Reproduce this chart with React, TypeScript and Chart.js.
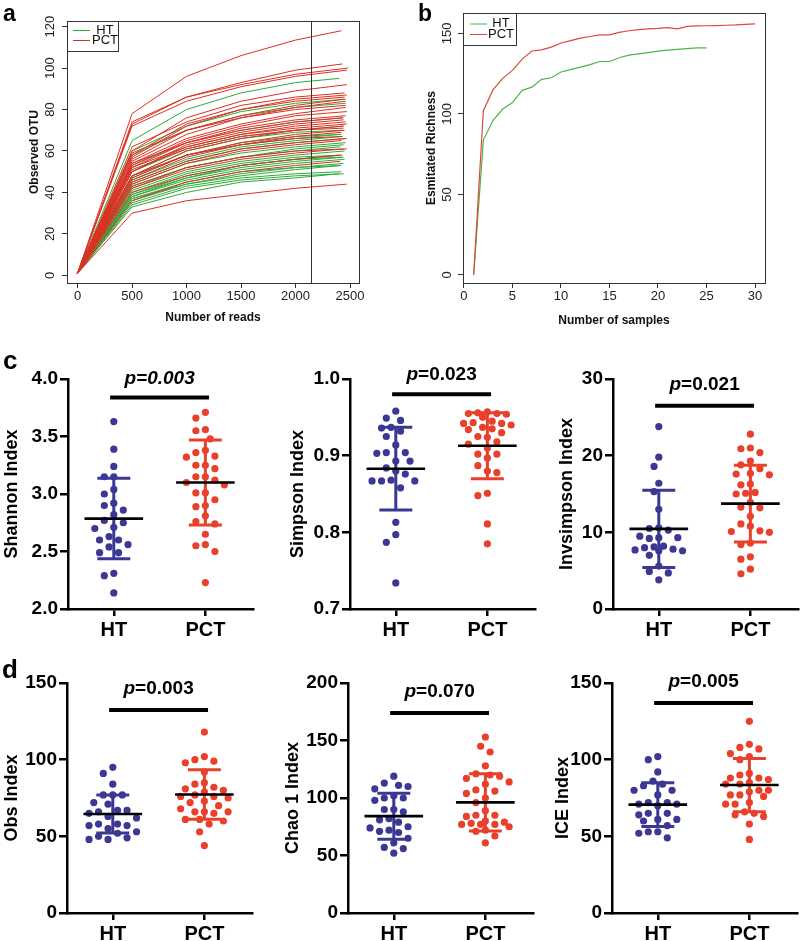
import React, { useEffect, useRef } from 'react';
import { Chart, registerables } from 'chart.js';

Chart.register(...registerables);

const FONT = 'Arial, "Liberation Sans", Helvetica, sans-serif';
Chart.defaults.font.family = FONT;

const GREEN = '#2FAA38';
const RED = '#DB2F22';
const HT_DOT = '#3B3894';
const PCT_DOT = '#E8402B';

const groupLabels = ['HT', 'PCT'];

// ---------- panel a : rarefaction curves ----------
const readSteps = [0, 500, 1000, 1500, 2000];
const curveStartOTU = 1;
const rarefactionDepth = 2140;
const readTicks = [0, 500, 1000, 1500, 2000, 2500];
const otuTicks = [0, 20, 40, 60, 80, 100, 120];
// values at 500, 1000, 1500, 2000 reads and at the sample's full depth
const pctCurves = [
  [78, 96, 106, 113.5, 118], [74, 86, 93, 99, 102], [73, 86, 92, 97, 100], [72, 84, 91, 96, 99],
  [60, 76, 84, 89, 92], [58, 73, 80, 85, 87], [57, 72, 80, 84, 86], [56, 70, 77, 82, 85],
  [55, 68, 76, 81, 84], [54, 66, 73, 78, 81], [53, 65, 72, 77, 79], [52, 64, 71, 75, 77],
  [54, 64, 70, 74, 76], [50, 62, 68, 72, 74], [52, 62, 68, 71, 73], [48, 60, 66, 70, 72],
  [50, 63, 69, 73, 75], [47, 58, 64, 68, 70], [46, 57, 63, 67, 69], [45, 55, 61, 64, 66],
  [44, 54, 60, 63, 65], [43, 52, 57, 60, 61], [42, 51, 56, 59, 61], [40, 48, 53, 56, 58],
  [36, 45, 50, 53, 55], [30, 36, 39, 42, 44], [62, 74, 82, 86, 88], [59, 70, 76, 80, 82],
  [51, 61, 67, 70, 71], [48, 58, 63, 66, 67],
];
const pctDepths = [2420, 2430, 2480, 2470, 2470, 2470, 2450, 2450, 2460, 2460, 2470, 2460, 2440, 2460, 2470,
  2440, 2440, 2450, 2420, 2470, 2420, 2470, 2440, 2430, 2410, 2470, 2450, 2460, 2440, 2430];
const htCurves = [
  [65, 80, 88, 93, 95], [60, 72, 79, 83, 85], [58, 70, 77, 81, 83], [53, 64, 70, 74, 76],
  [50, 61, 67, 70, 72], [48, 60, 66, 69, 70], [48, 58, 63, 66, 68], [47, 58, 64, 67, 68],
  [46, 56, 62, 65, 67], [45, 55, 61, 64, 66], [44, 54, 59, 62, 64], [43, 52, 57, 61, 63],
  [42, 52, 57, 60, 62], [41, 50, 55, 58, 60], [40, 49, 54, 57, 58], [38, 47, 53, 56, 58],
  [39, 47, 52, 55, 57], [39, 48, 53, 56, 57], [38, 46, 51, 54, 56], [37, 45, 50, 52, 54],
  [37, 44, 48, 51, 53], [36, 44, 49, 52, 53], [35, 43, 47, 49, 50], [34, 42, 46, 48, 49],
  [33, 40, 45, 47, 49],
];
const htDepths = [2400, 2460, 2460, 2430, 2440, 2440, 2400, 2420, 2430, 2450, 2460, 2440, 2410, 2450, 2410,
  2400, 2440, 2420, 2450, 2440, 2420, 2410, 2420, 2440, 2400];

// ---------- panel b : species accumulation ----------
const samplesHT = [1, 2, 3, 4, 5, 6, 7, 8, 9, 10, 11, 12, 13, 14, 15, 16, 17, 18, 19, 20, 21, 22, 23, 24, 25];
const richnessHT = [0, 83.7, 96, 103, 107, 114.6, 116.6, 121.4, 122.4, 126, 127.5, 129, 130.6, 132.5, 132.5,
  134.8, 136.4, 137.2, 138, 138.9, 139.5, 140, 140.5, 141, 141];
const samplesPCT = [1, 2, 3, 4, 5, 6, 7, 8, 9, 10, 11, 12, 13, 14, 15, 16, 17, 18, 19, 20, 21, 22, 23, 24, 25,
  26, 27, 28, 29, 30];
const richnessPCT = [0, 102, 115, 122, 127, 134, 139, 139.7, 141.4, 144, 145.5, 147, 148, 149, 149, 150.6,
  151.6, 152.3, 152.7, 153, 153.5, 152.7, 154.3, 154.6, 154.7, 154.8, 155, 155.2, 155.6, 155.8];
const sampleTicks = [0, 5, 10, 15, 20, 25, 30];
const richnessTicks = [0, 50, 100, 150];

// ---------- panels c / d : alpha diversity (values, [mean, sd]) ----------
const shannonHT = [3.63, 3.39, 3.24, 3.15, 3.15, 3.04, 3.0, 2.92, 2.9, 2.86, 2.82, 2.77, 2.75, 2.71, 2.7, 2.63,
  2.6, 2.6, 2.56, 2.54, 2.49, 2.49, 2.31, 2.29, 2.14];
const shannonPCT = [3.71, 3.66, 3.56, 3.55, 3.48, 3.38, 3.36, 3.33, 3.32, 3.25, 3.25, 3.22, 3.15, 3.15, 3.12,
  3.1, 3.08, 3.01, 3.01, 2.95, 2.9, 2.89, 2.81, 2.76, 2.74, 2.65, 2.56, 2.55, 2.5, 2.23];
const shannonHTStats = [2.786, 0.35];
const shannonPCTStats = [3.1, 0.37];
const shannonTicks = [2.0, 2.5, 3.0, 3.5, 4.0];

const simpsonHT = [0.958, 0.949, 0.946, 0.937, 0.936, 0.932, 0.925, 0.914, 0.904, 0.904, 0.903, 0.893, 0.893,
  0.884, 0.88, 0.876, 0.868, 0.867, 0.867, 0.867, 0.858, 0.813, 0.797, 0.787, 0.734];
const simpsonPCT = [0.957, 0.956, 0.955, 0.955, 0.954, 0.95, 0.945, 0.943, 0.942, 0.942, 0.94, 0.937, 0.935,
  0.934, 0.93, 0.925, 0.924, 0.918, 0.915, 0.91, 0.902, 0.902, 0.897, 0.887, 0.88, 0.878, 0.851, 0.848, 0.811, 0.785];
const simpsonHTStats = [0.883, 0.054];
const simpsonPCTStats = [0.913, 0.043];
const simpsonTicks = [0.7, 0.8, 0.9, 1.0];

const invsimpsonHT = [23.8, 19.8, 18.6, 16.4, 15.3, 13.0, 10.6, 10.5, 10.3, 9.5, 9.3, 9.3, 9.2, 8.1, 8.2, 8.0,
  7.8, 7.7, 7.6, 7.6, 7.0, 5.6, 4.9, 4.7, 3.8];
const invsimpsonPCT = [22.8, 21.0, 20.9, 20.4, 19.3, 18.8, 18.3, 17.7, 17.6, 17.5, 16.3, 16.2, 15.2, 15.1, 15.0,
  13.9, 13.3, 13.2, 12.1, 11.1, 10.8, 10.2, 10.1, 10.0, 8.6, 8.4, 6.8, 6.5, 5.2, 4.6];
const invsimpsonHTStats = [10.45, 5.05];
const invsimpsonPCTStats = [13.75, 5.0];
const invsimpsonTicks = [0, 10, 20, 30];

const obsHT = [95, 91, 84, 77, 77, 77, 72, 71, 67, 67, 66, 65, 63, 62, 58, 58, 57, 57, 55, 53, 52, 50, 49, 48, 48];
const obsPCT = [118, 102, 100, 99, 98, 92, 85, 84, 82, 81, 80, 79, 77, 76, 76, 75, 73, 72, 70, 68, 66, 66, 66, 65,
  61, 61, 60, 58, 53, 44];
const obsHTStats = [64.6, 12.4];
const obsPCTStats = [77.3, 16.2];
const obsTicks = [0, 50, 100, 150];

const chaoHT = [119, 113, 111, 110, 108, 102, 100, 100, 98, 90, 90, 88, 82, 81, 79, 75, 74, 72, 71, 70, 65, 61,
  57, 56, 52];
const chaoPCT = [153, 145, 140, 128, 121, 120, 119, 117, 114, 112, 107, 106, 104, 100, 96, 89, 84, 85, 85, 80, 79,
  77, 78, 77, 77, 75, 72, 71, 67, 61];
const chaoHTStats = [84.2, 20.0];
const chaoPCTStats = [96.2, 24.8];
const chaoTicks = [0, 50, 100, 150, 200];

const iceHT = [102, 100, 92, 86, 84, 83, 80, 80, 77, 72, 72, 71, 71, 70, 65, 65, 64, 61, 61, 60, 57, 53, 53, 52, 49];
const icePCT = [125, 110, 108, 107, 104, 102, 100, 91, 90, 88, 88, 87, 85, 84, 84, 80, 80, 79, 77, 77, 76, 72,
  71, 71, 66, 65, 64, 63, 58, 48];
const iceHTStats = [70.7, 14.3];
const icePCTStats = [83.45, 17.35];
const iceTicks = [0, 50, 100, 150];

// ---------- helpers ----------
function rarefactionDatasets(curves: number[][], depths: number[], color: string, label: string) {
  return curves.map((c, i) => ({
    label,
    data: [
      { x: readSteps[0], y: curveStartOTU },
      ...c.slice(0, 4).map((v, k) => ({ x: readSteps[k + 1], y: v })),
      { x: depths[i], y: c[4] },
    ],
    showLine: true,
    borderColor: color,
    borderWidth: 1,
    pointRadius: 0,
    tension: 0,
  }));
}

function rScales(o: any) {
  return {
    x: {
      type: 'linear', min: o.xMin, max: o.xMax,
      afterBuildTicks: (s: any) => { s.ticks = o.xTicks.map((v: number) => ({ value: v })); },
      afterFit: (s: any) => { s.height = o.xHeight; },
      grid: { display: true, drawOnChartArea: false, drawTicks: true, tickLength: 5, color: '#333', lineWidth: 1 },
      border: { display: false },
      ticks: { font: { size: 13 }, color: '#222', padding: 1, maxRotation: 0, autoSkip: false, callback: (v: any) => String(v) },
      title: { display: true, text: o.xTitle, font: { size: 12, weight: 'bold' }, color: '#111', padding: { top: 0, bottom: o.xTitlePad } },
    },
    y: {
      type: 'linear', min: o.yMin, max: o.yMax,
      afterBuildTicks: (s: any) => { s.ticks = o.yTicks.map((v: number) => ({ value: v })); },
      afterFit: (s: any) => { s.width = o.yWidth; },
      grid: { display: true, drawOnChartArea: false, drawTicks: true, tickLength: 5, color: '#333', lineWidth: 1 },
      border: { display: false },
      ticks: { display: false },
      title: { display: true, text: o.yTitle, font: { size: 12, weight: 'bold' }, color: '#111', padding: { top: o.yTitlePad, bottom: 0 } },
    },
  };
}

function rDecor(o: any) {
  return {
    id: 'rDecor',
    afterDraw(chart: any) {
      const { ctx, chartArea: a, scales } = chart;
      ctx.save();
      ctx.strokeStyle = '#333';
      ctx.lineWidth = 1;
      ctx.strokeRect(Math.round(a.left) + 0.5, Math.round(a.top) + 0.5, Math.round(a.right - a.left), Math.round(a.bottom - a.top));
      if (o.vline != null) {
        const px = Math.round(scales.x.getPixelForValue(o.vline)) + 0.5;
        ctx.beginPath(); ctx.moveTo(px, a.top); ctx.lineTo(px, a.bottom); ctx.stroke();
      }
      ctx.fillStyle = '#222';
      ctx.font = `13px ${FONT}`;
      ctx.textAlign = 'center';
      ctx.textBaseline = 'middle';
      for (const v of o.yTicks) {
        const py = scales.y.getPixelForValue(v);
        ctx.save(); ctx.translate(o.yLabelX, py); ctx.rotate(-Math.PI / 2); ctx.fillText(String(v), 0, 0); ctx.restore();
      }
      const L = o.legend;
      ctx.fillStyle = '#fff';
      ctx.fillRect(L.x0, L.y0, L.x1 - L.x0, L.y1 - L.y0);
      ctx.strokeStyle = '#333';
      ctx.strokeRect(L.x0 + 0.5, L.y0 + 0.5, L.x1 - L.x0, L.y1 - L.y0);
      L.rows.forEach((r: any) => {
        ctx.strokeStyle = r.color;
        ctx.beginPath(); ctx.moveTo(L.lx0, r.y + 0.5); ctx.lineTo(L.lx1, r.y + 0.5); ctx.stroke();
        ctx.fillStyle = '#111';
        ctx.fillText(r.label, L.tx, r.y);
      });
      ctx.font = `bold 23px ${FONT}`;
      ctx.textAlign = 'left';
      ctx.textBaseline = 'alphabetic';
      ctx.fillStyle = '#000';
      ctx.fillText(o.letter, o.letterX, o.letterY);
      ctx.restore();
    },
  };
}

function panelAConfig() {
  return {
    type: 'scatter',
    data: { datasets: [...rarefactionDatasets(pctCurves, pctDepths, RED, 'PCT'), ...rarefactionDatasets(htCurves, htDepths, GREEN, 'HT')] },
    options: {
      responsive: false, animation: false, events: [],
      layout: { padding: { left: 0, top: 21, right: 41, bottom: 0 } },
      plugins: { legend: { display: false }, tooltip: { enabled: false } },
      scales: rScales({
        xMin: -97, xMax: 2582, yMin: -3.7, yMax: 122.7, xTicks: readTicks, yTicks: otuTicks,
        xHeight: 47, yWidth: 67, xTitle: 'Number of reads', yTitle: 'Observed OTU', xTitlePad: 4.8, yTitlePad: 27.8,
      }),
    },
    plugins: [rDecor({
      yTicks: otuTicks, yLabelX: 50, vline: rarefactionDepth, letter: 'a', letterX: 3, letterY: 21,
      legend: { x0: 67, y0: 21, x1: 118, y1: 51, lx0: 73, lx1: 90, tx: 105,
        rows: [{ label: groupLabels[0], color: GREEN, y: 30 }, { label: groupLabels[1], color: RED, y: 40 }] },
    })],
  };
}

function panelBConfig() {
  const line = (xs: number[], ys: number[], color: string, label: string) => ({
    label, data: xs.map((x, i) => ({ x, y: ys[i] })), showLine: true, borderColor: color, borderWidth: 1.2, pointRadius: 0, tension: 0,
  });
  return {
    type: 'scatter',
    data: { datasets: [line(samplesPCT, richnessPCT, '#DC4A3C', 'PCT'), line(samplesHT, richnessHT, '#4DB34D', 'HT')] },
    options: {
      responsive: false, animation: false, events: [],
      layout: { padding: { left: 0, top: 13, right: 35, bottom: 0 } },
      plugins: { legend: { display: false }, tooltip: { enabled: false } },
      scales: rScales({
        xMin: -0.1, xMax: 31.03, yMin: -5, yMax: 162.6, xTicks: sampleTicks, yTicks: richnessTicks,
        xHeight: 47, yWidth: 63, xTitle: 'Number of samples', yTitle: 'Esmitated Richness', xTitlePad: 1.8, yTitlePad: 24.5,
      }),
    },
    plugins: [rDecor({
      yTicks: richnessTicks, yLabelX: 47.7, letter: 'b', letterX: 18, letterY: 21,
      legend: { x0: 63, y0: 13, x1: 116, y1: 45, lx0: 70, lx1: 87, tx: 101,
        rows: [{ label: groupLabels[0], color: '#4DB34D', y: 23.5 }, { label: groupLabels[1], color: '#DC4A3C', y: 34 }] },
    })],
  };
}

// ---------- dot plots ----------
const X_MIN = 0.5;
const X_MAX = 2.52;
const PLOT_W = 185;
const PLOT_H = 230;

// beeswarm layout limited to a maximum half-width; falls back to the least-crowded slot
function swarm(values: number[], center: number, pxX: number, pxY: number, spacing: number, maxOff: number) {
  const idx = values.map((_, i) => i).sort((a, b) => values[b] - values[a]);
  const placed: { x: number; y: number }[] = [];
  const out: { x: number; y: number }[] = new Array(values.length);
  const cands = [0];
  for (let k = 1; k * 0.5 * spacing <= maxOff; k++) cands.push(-k * 0.5 * spacing, k * 0.5 * spacing);
  for (const i of idx) {
    const py = values[i] * pxY;
    let chosen = 0;
    let best = -1;
    let found = false;
    for (const c of cands) {
      const dmin = placed.reduce((m, p) => Math.min(m, Math.hypot(p.x - c, p.y - py)), Infinity);
      if (dmin >= spacing) { chosen = c; found = true; break; }
      if (dmin > best) { best = dmin; chosen = c; }
    }
    if (!found && best < 0) chosen = 0;
    placed.push({ x: chosen, y: py });
    out[i] = { x: center + chosen / pxX, y: values[i] };
  }
  return out;
}

function seg(data: any[], color: string, width: number, order: number) {
  return { data, showLine: true, borderColor: color, borderWidth: width, pointRadius: 0, order, tension: 0 };
}

function dotConfig(p: any) {
  const pxX = PLOT_W / (X_MAX - X_MIN);
  const pxY = PLOT_H / (p.yMax - p.yMin);
  const ds: any[] = [seg([{ x: 0.96, y: p.barY }, { x: 2.04, y: p.barY }], '#000', 4, 0)];
  const groups = [
    { vals: p.ht, stats: p.htStats, color: HT_DOT, c: 1 },
    { vals: p.pct, stats: p.pctStats, color: PCT_DOT, c: 2 },
  ];
  for (const g of groups) {
    const [m, sd] = g.stats;
    ds.push(seg([{ x: g.c - 0.32, y: m }, { x: g.c + 0.32, y: m }], '#000', 2.6, 0));
    ds.push(seg([{ x: g.c, y: m - sd }, { x: g.c, y: m + sd }], g.color, 3, 1));
    ds.push(seg([{ x: g.c - 0.18, y: m + sd }, { x: g.c + 0.18, y: m + sd }], g.color, 3, 1));
    ds.push(seg([{ x: g.c - 0.18, y: m - sd }, { x: g.c + 0.18, y: m - sd }], g.color, 3, 1));
    ds.push({ data: swarm(g.vals, g.c, pxX, pxY, 9.5, 26), backgroundColor: g.color, borderWidth: 0, pointRadius: 3.6, order: 2 });
  }
  const decor = {
    id: 'prismDecor',
    afterDraw(chart: any) {
      const { ctx, scales } = chart;
      const x = scales.x.getPixelForValue(1.5);
      const y = scales.y.getPixelForValue(p.textY);
      ctx.save();
      ctx.fillStyle = '#000';
      ctx.textBaseline = 'middle';
      ctx.textAlign = 'left';
      const f1 = `italic bold 19px ${FONT}`;
      const f2 = p.italicAll ? f1 : `bold 19px ${FONT}`;
      const first = p.pText.slice(0, 1);
      const rest = p.pText.slice(1);
      ctx.font = f1; const w1 = ctx.measureText(first).width;
      ctx.font = f2; const w2 = ctx.measureText(rest).width;
      const x0 = x - (w1 + w2) / 2;
      ctx.font = f1; ctx.fillText(first, x0, y);
      ctx.font = f2; ctx.fillText(rest, x0 + w1, y);
      if (p.letter) {
        ctx.font = `bold 26px ${FONT}`;
        ctx.textBaseline = 'alphabetic';
        ctx.fillText(p.letter, p.letterX, p.letterY);
      }
      ctx.restore();
    },
  };
  return {
    type: 'scatter',
    data: { datasets: ds },
    options: {
      responsive: false, animation: false, events: [],
      layout: { padding: { left: 0, top: 50, right: 12, bottom: 0 } },
      plugins: { legend: { display: false }, tooltip: { enabled: false } },
      scales: {
        x: {
          type: 'linear', min: X_MIN, max: X_MAX,
          afterBuildTicks: (s: any) => { s.ticks = [{ value: 1 }, { value: 2 }]; },
          afterFit: (s: any) => { s.height = 42; },
          grid: { display: true, drawOnChartArea: false, drawTicks: true, tickLength: 7, color: '#000', lineWidth: 2.5 },
          border: { display: true, color: '#000', width: 2.5 },
          ticks: { font: { size: 20, weight: 'bold' }, color: '#000', padding: 2, maxRotation: 0, autoSkip: false,
            callback: (v: any) => groupLabels[Math.round(v) - 1] },
        },
        y: {
          type: 'linear', min: p.yMin, max: p.yMax,
          afterBuildTicks: (s: any) => { s.ticks = p.yTicks.map((v: number) => ({ value: v })); },
          afterFit: (s: any) => { s.width = 68; },
          grid: { display: true, drawOnChartArea: false, drawTicks: true, tickLength: 8, color: '#000', lineWidth: 2.5 },
          border: { display: true, color: '#000', width: 2.5 },
          ticks: { font: { size: 19, weight: 'bold' }, color: '#000', padding: 2, autoSkip: false,
            callback: (v: any) => Number(v).toFixed(p.decimals) },
          title: { display: true, text: p.yTitle, font: { size: 18, weight: 'bold' }, color: '#000',
            padding: { top: p.titleX - 10.8, bottom: 0 } },
        },
      },
    },
    plugins: [decor],
  };
}

const dotPanels = [
  { yTitle: 'Shannon Index', yMin: 2, yMax: 4, yTicks: shannonTicks, decimals: 1, ht: shannonHT, pct: shannonPCT,
    htStats: shannonHTStats, pctStats: shannonPCTStats, pText: 'p=0.003', italicAll: true, barY: 3.84, textY: 4.0,
    axisX: 68, chartTop: 379, titleX: 12, letter: 'c', letterX: 3, letterY: 40 },
  { yTitle: 'Simpson Index', yMin: 0.7, yMax: 1.0, yTicks: simpsonTicks, decimals: 1, ht: simpsonHT, pct: simpsonPCT,
    htStats: simpsonHTStats, pctStats: simpsonPCTStats, pText: 'p=0.023', italicAll: false, barY: 0.98, textY: 1.005,
    axisX: 350, chartTop: 379, titleX: 16 },
  { yTitle: 'Invsimpson Index', yMin: 0, yMax: 30, yTicks: invsimpsonTicks, decimals: 0, ht: invsimpsonHT, pct: invsimpsonPCT,
    htStats: invsimpsonHTStats, pctStats: invsimpsonPCTStats, pText: 'p=0.021', italicAll: false, barY: 26.5, textY: 29.3,
    axisX: 613, chartTop: 379, titleX: 22 },
  { yTitle: 'Obs Index', yMin: 0, yMax: 150, yTicks: obsTicks, decimals: 0, ht: obsHT, pct: obsPCT,
    htStats: obsHTStats, pctStats: obsPCTStats, pText: 'p=0.003', italicAll: false, barY: 132.4, textY: 146,
    axisX: 67, chartTop: 683, titleX: 13, letter: 'd', letterX: 3, letterY: 45 },
  { yTitle: 'Chao 1 Index', yMin: 0, yMax: 200, yTicks: chaoTicks, decimals: 0, ht: chaoHT, pct: chaoPCT,
    htStats: chaoHTStats, pctStats: chaoPCTStats, pText: 'p=0.070', italicAll: false, barY: 174, textY: 192,
    axisX: 348, chartTop: 683, titleX: 13 },
  { yTitle: 'ICE Index', yMin: 0, yMax: 150, yTicks: iceTicks, decimals: 0, ht: iceHT, pct: icePCT,
    htStats: iceHTStats, pctStats: icePCTStats, pText: 'p=0.005', italicAll: false, barY: 137, textY: 150.8,
    axisX: 612, chartTop: 683, titleX: 19 },
];

function ChartCanvas({ left, top, width, height, build }: { left: number; top: number; width: number; height: number; build: () => any }) {
  const ref = useRef<HTMLCanvasElement>(null);
  useEffect(() => {
    const chart = new Chart(ref.current as HTMLCanvasElement, build());
    return () => chart.destroy();
  }, []);
  return (
    <canvas ref={ref} width={width} height={height}
      style={{ position: 'absolute', left, top, width, height, display: 'block' }} />
  );
}

export default function App() {
  return (
    <div style={{ position: 'absolute', left: 0, top: 0, width: 800, height: 941, overflow: 'hidden', background: '#fff' }}>
      <ChartCanvas left={0} top={0} width={400} height={330} build={panelAConfig} />
      <ChartCanvas left={400} top={0} width={400} height={330} build={panelBConfig} />
      {dotPanels.map((p, i) => (
        <ChartCanvas key={i} left={p.axisX - 68} top={p.chartTop - 50} width={265} height={322} build={() => dotConfig(p)} />
      ))}
    </div>
  );
}
